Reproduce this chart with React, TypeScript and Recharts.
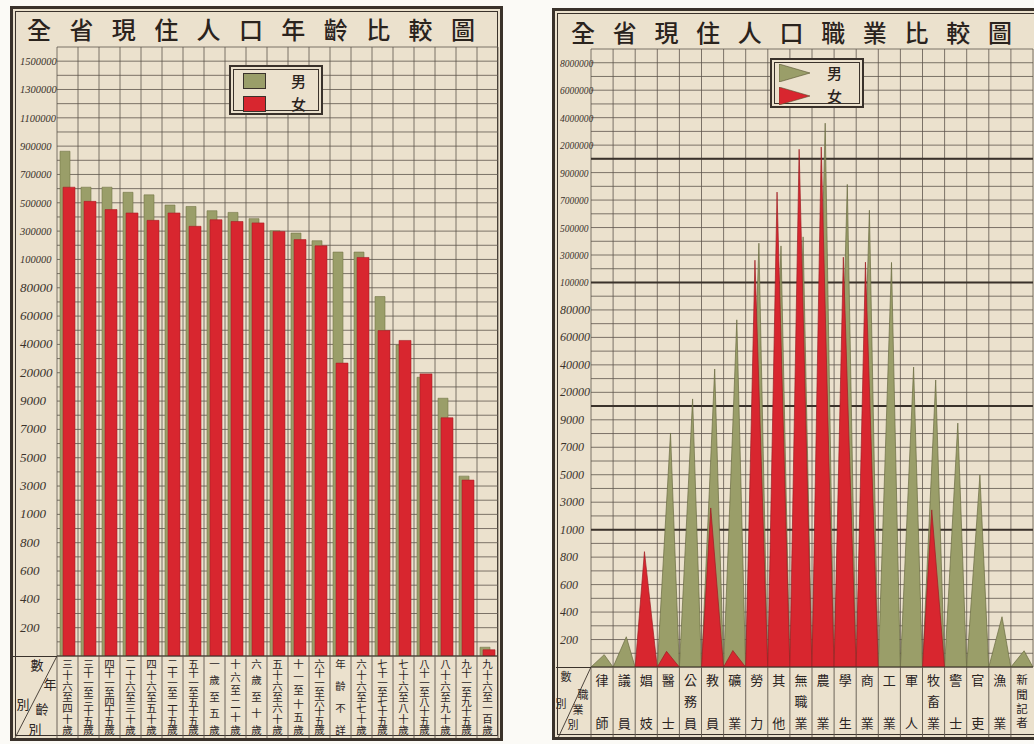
import { Bar, BarChart, CartesianGrid, XAxis, YAxis } from "recharts";

// left panel: population by age group (男 / 女)
const ageGroups = [
  "三十六至四十歲", "三十一至三十五歲", "四十一至四十五歲", "二十六至三十歲", "四十六至五十歲",
  "二十一至二十五歲", "五十一至五十五歲", "一歲至五歲", "十六至二十歲", "六歲至十歲",
  "五十六至六十歲", "十一至十五歲", "六十一至六十五歲", "年齡不詳", "六十六至七十歲",
  "七十一至七十五歲", "七十六至八十歲", "八十一至八十五歲", "八十六至九十歲", "九十一至九十五歲",
  "九十六至一百歲",
];
const ageMale = [864000, 610000, 610000, 574000, 556000, 484000, 474000, 444000, 432000, 388000, 302000, 286000, 232000, 152000, 152000, 73800, 39600, 18240, 10100, 3700, 62];
const ageFemale = [610000, 510000, 452000, 428000, 376000, 428000, 334000, 380000, 368000, 358000, 298000, 240000, 196000, 26800, 114000, 49800, 42800, 19560, 7820, 3420, 44];
const ageTicks = [200, 400, 600, 800, 1000, 3000, 5000, 7000, 9000, 20000, 40000, 60000, 80000, 100000, 300000, 500000, 700000, 900000, 1100000, 1300000, 1500000];

// right panel: population by occupation
const jobs = ["律師", "議員", "娼妓", "醫士", "公務員", "教員", "礦業", "勞力", "其他", "無職業", "農業", "學生", "商業", "工業", "軍人", "牧畜業", "警士", "官吏", "漁業", "新聞記者"];
const jobMale = [90, 220, 0, 8040, 17360, 37000, 72800, 386000, 366000, 432000, 3600000, 814000, 626000, 246000, 38400, 29000, 8760, 4980, 366, 118];
const jobFemale = [0, 0, 840, 114, 0, 2580, 120, 262000, 758000, 1835000, 1923000, 284000, 248000, 0, 0, 2440, 0, 0, 0, 0];
const jobTicks = [200, 400, 600, 800, 1000, 3000, 5000, 7000, 9000, 20000, 40000, 60000, 80000, 100000, 300000, 500000, 700000, 900000, 2000000, 4000000, 6000000, 8000000];
const jobHeavy = [1000, 10000, 100000, 1000000];

const PAPER = "#ebe1cd";
const INK = "#3a322b";
const GRID = "#5e564c";
const OLIVE = "#9a9e69";
const RED = "#d8262f";
const CJK = "'Noto Sans CJK TC', 'Noto Sans CJK JP', sans-serif";

// the printed scale is piecewise: every label sits one step above the one below
function toLevel(v: number, ticks: number[]) {
  const stops = [0, ...ticks];
  for (let i = 0; i < stops.length - 1; i++) {
    if (v <= stops[i + 1]) return i + (v - stops[i]) / (stops[i + 1] - stops[i]);
  }
  const n = stops.length - 1;
  return n + (v - stops[n]) / (stops[n] - stops[n - 1]);
}
// heavy rules on the job chart sit half-way between the bracketing labels
function heavyLevel(v: number, ticks: number[]) {
  const stops = [0, ...ticks];
  const i = stops.findIndex((s) => s >= v);
  return stops[i] === v ? i : i - 0.5;
}
const halfSteps = (n: number) => Array.from({ length: n * 2 + 2 }, (_, i) => i / 2);

const ageData = ageGroups.map((name, i) => ({
  name,
  male: toLevel(ageMale[i], ageTicks),
  female: toLevel(ageFemale[i], ageTicks),
}));
const jobData = jobs.map((name, i) => ({
  name,
  male: toLevel(jobMale[i], jobTicks),
  female: toLevel(jobFemale[i], jobTicks),
}));

function LevelTick(props: any) {
  const { y, payload, ticks, left, big, small } = props;
  const k = payload.value;
  if (k < 1 || k % 1 !== 0 || k > ticks.length) return <g />;
  const label = String(ticks[k - 1]);
  return (
    <text x={left} y={y} dy={4} fontSize={label.length >= 6 ? big : small} fontStyle="italic"
      fontFamily="'Liberation Serif', serif" fill={INK}>
      {label}
    </text>
  );
}

// category names are written top to bottom, spread over the whole cell
function StackTick(props: any) {
  const { x, y, payload, bw, h, top, bottom, size, last } = props;
  const label = String(payload.value);
  return (
    <g>
      <line x1={x - bw / 2} x2={x - bw / 2} y1={y} y2={y + h} stroke={GRID} strokeWidth={0.9} />
      {last && <line x1={x + bw / 2} x2={x + bw / 2} y1={y} y2={y + h} stroke={GRID} strokeWidth={0.9} />}
      <text x={x} y={y + top - size / 2} style={{ writingMode: "vertical-rl" }}
        textLength={bottom - top + size} lengthAdjust="spacing"
        fontSize={size} fontFamily={CJK} fill="#2a241f">
        {label}
      </text>
    </g>
  );
}

function Spike(props: any) {
  const { x, y, width, height, apex, fill, edge } = props;
  if (!height || height <= 0.2) return <g />;
  const base = y + height;
  return (
    <polygon points={`${x},${base} ${x + width * apex},${y} ${x + width},${base}`}
      fill={fill} stroke={edge} strokeWidth={0.7} strokeLinejoin="miter" />
  );
}

const columns = (n: number) => (p: any) => {
  const o = p.offset;
  return Array.from({ length: n + 1 }, (_, i) => o.left + (i * o.width) / n);
};
const heavyRows = (max: number) => (p: any) => {
  const o = p.offset;
  return jobHeavy.map((v) => o.top + o.height * (1 - heavyLevel(v, jobTicks) / max));
};

function Frame({ left, top, width, height }: any) {
  return (
    <div style={{
      position: "absolute", left, top, width, height, boxSizing: "border-box",
      background: PAPER, border: `3px solid ${INK}`,
      boxShadow: `inset 0 0 0 2px ${PAPER}, inset 0 0 0 3px ${INK}`,
    }} />
  );
}

function Title({ left, top, width, text, padL, padR }: any) {
  return (
    <div style={{
      position: "absolute", left, top, width, height: 38, boxSizing: "border-box",
      paddingLeft: padL, paddingRight: padR, display: "flex", justifyContent: "space-between",
      alignItems: "center", fontFamily: CJK, fontSize: 24, fontWeight: 500, color: "#2a231d",
    }}>
      {Array.from(text as string).map((c, i) => <span key={i}>{c}</span>)}
    </div>
  );
}

function LegendBox({ left, top, kind }: any) {
  const mark = (color: string) =>
    kind === "bar" ? (
      <div style={{ width: 23, height: 16, background: color, border: `1px solid ${INK}`, boxSizing: "border-box" }} />
    ) : (
      <svg width={31} height={18} style={{ display: "block" }}><polygon points="0,0 31,9 0,18" fill={color} stroke="#55502f" strokeWidth={0.6} /></svg>
    );
  const row = (color: string, label: string) => (
    <div style={{ display: "flex", alignItems: "center", height: 23 }}>
      <div style={{ width: 40, display: "flex", justifyContent: "flex-start" }}>{mark(color)}</div>
      <div style={{ marginLeft: 8, fontFamily: CJK, fontSize: 15, lineHeight: "15px", fontWeight: 500, color: "#2a231d" }}>{label}</div>
    </div>
  );
  return (
    <div style={{
      position: "absolute", left, top, width: 94, height: 50, boxSizing: "border-box",
      background: PAPER, border: `2px solid ${INK}`, boxShadow: `inset 0 0 0 2px ${PAPER}, inset 0 0 0 3px ${INK}`,
      padding: kind === "bar" ? "2px 0 0 12px" : "1px 0 0 7px",
    }}>
      {row(OLIVE, "男")}
      {row(RED, "女")}
    </div>
  );
}

function Corner({ left, top, width, height, marks, size }: any) {
  return (
    <svg style={{ position: "absolute", left, top }} width={width} height={height}>
      <line x1={0} y1={0.5} x2={width} y2={0.5} stroke={INK} strokeWidth={1} />
      <line x1={width} y1={0} x2={2} y2={height} stroke={INK} strokeWidth={0.9} />
      {marks.map((t: any, i: number) => (
        <text key={i} x={t[1]} y={t[2]} textAnchor="middle" dominantBaseline="central" fontSize={size} fontFamily={CJK} fill="#2a241f">{t[0]}</text>
      ))}
    </svg>
  );
}

export default function App() {
  const ageMax = ageTicks.length + 0.5;
  const jobMax = jobTicks.length + 0.5;
  return (
    <div style={{ position: "fixed", left: 0, top: 0, width: 1034, height: 744, background: "#fbfaf6", overflow: "hidden" }}>
      {/* left panel */}
      <Frame left={10} top={6} width={493} height={735} />
      <Title left={13} top={9} width={486} text="全省現住人口年齡比較圖" padL={14} padR={24} />
      <div style={{ position: "absolute", left: 10, top: 8 }}>
        <BarChart width={493} height={732} data={ageData} margin={{ top: 39, right: 5, bottom: 2, left: 0 }}
          barGap={-7} barCategoryGap={0}>
          <CartesianGrid stroke={GRID} strokeWidth={0.8} verticalCoordinatesGenerator={columns(ageGroups.length)} />
          <XAxis dataKey="name" interval={0} height={82} tickLine={false} tickSize={0} tickMargin={0}
            axisLine={{ stroke: INK, strokeWidth: 1.2 }}
            tick={(p: any) => <StackTick {...p} bw={441 / ageGroups.length} h={82} top={8} bottom={74} size={10.5}
              last={p.index === ageGroups.length - 1} />} />
          <YAxis type="number" domain={[0, ageMax]} ticks={halfSteps(ageTicks.length)} interval={0}
            width={47} axisLine={false} tickLine={false} allowDataOverflow
            tick={(p: any) => <LevelTick {...p} ticks={ageTicks} left={10} big={10.5} small={13} />} />
          <Bar dataKey="male" fill={OLIVE} barSize={10} stroke="#737548" strokeWidth={0.6} isAnimationActive={false} />
          <Bar dataKey="female" fill={RED} barSize={12} stroke="#a81e25" strokeWidth={0.6} isAnimationActive={false} />
        </BarChart>
      </div>
      <LegendBox left={229} top={65} kind="bar" />
      <Corner left={13} top={656} width={44} height={82} size={13}
        marks={[["數", 24, 8], ["別", 10, 47], ["年", 37, 27], ["齡", 29, 52], ["別", 22, 72]]} />

      {/* right panel */}
      <Frame left={552} top={8} width={500} height={732} />
      <Title left={556} top={12} width={478} text="全省現住人口職業比較圖" padL={15} padR={22} />
      <div style={{ position: "absolute", left: 553, top: 10 }}>
        <BarChart width={481} height={728} data={jobData} margin={{ top: 39, right: 1, bottom: 1, left: 0 }}
          barGap={-22} barCategoryGap={0}>
          <CartesianGrid stroke={GRID} strokeWidth={0.8} verticalCoordinatesGenerator={columns(jobs.length)} />
          <CartesianGrid stroke={INK} strokeWidth={2} vertical={false} horizontalCoordinatesGenerator={heavyRows(jobMax)} />
          <XAxis dataKey="name" interval={0} height={70} tickLine={false} tickSize={0} tickMargin={0}
            axisLine={{ stroke: INK, strokeWidth: 1.2 }}
            tick={(p: any) => <StackTick {...p} bw={442 / jobs.length} h={70} top={13} bottom={56}
              size={String(p.payload.value).length > 3 ? 11.5 : 13} last={false} />} />
          <YAxis type="number" domain={[0, jobMax]} ticks={halfSteps(jobTicks.length)} interval={0}
            width={38} axisLine={false} tickLine={false} allowDataOverflow
            tick={(p: any) => <LevelTick {...p} ticks={jobTicks} left={7} big={9.5} small={12} />} />
          <Bar dataKey="male" fill={OLIVE} barSize={22} isAnimationActive={false}
            shape={(p: any) => <Spike {...p} apex={0.6} fill={OLIVE} edge="#6a6c42" />} />
          <Bar dataKey="female" fill={RED} barSize={22} isAnimationActive={false}
            shape={(p: any) => <Spike {...p} apex={0.42} fill={RED} edge="#9e1c22" />} />
        </BarChart>
      </div>
      <LegendBox left={770} top={58} kind="spike" />
      <Corner left={556} top={667} width={35} height={71} size={11}
        marks={[["數", 10, 9], ["別", 5, 36], ["職", 27, 27], ["業", 22, 42], ["別", 17, 57]]} />
    </div>
  );
}
